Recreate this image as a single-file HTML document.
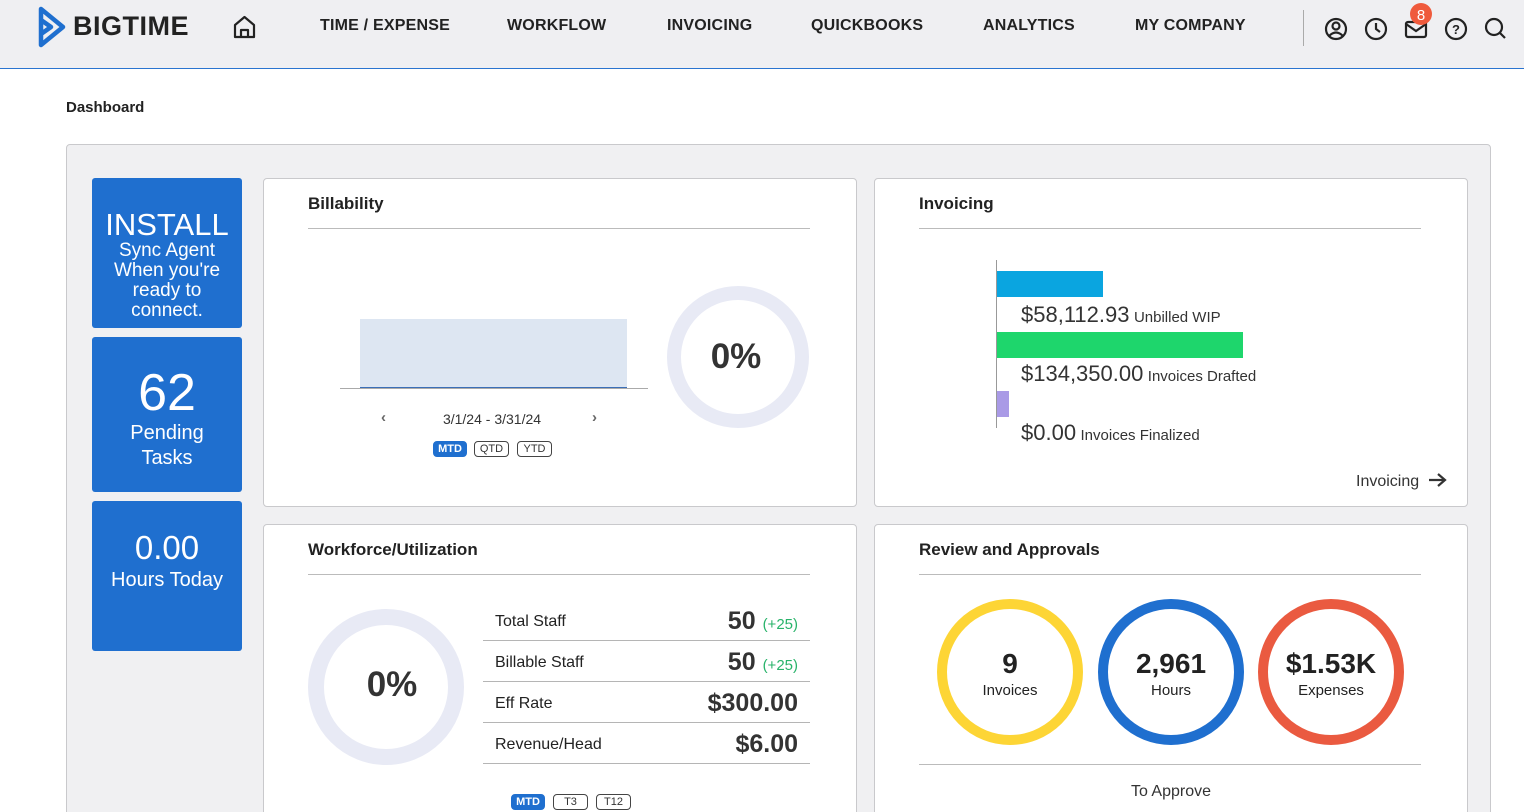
<!DOCTYPE html>
<html><head><meta charset="utf-8"><style>
*{margin:0;padding:0;box-sizing:border-box}
html,body{width:1524px;height:812px;overflow:hidden}
body{background:#fff;font-family:"Liberation Sans",Arial,sans-serif;color:#222;position:relative}
.a{position:absolute}
.hdr{left:0;top:0;width:1524px;height:68px;background:#efeff2}
.nav{top:17px;font-size:16px;font-weight:bold;color:#222;letter-spacing:.2px}
.tile{background:#1f6fcf;color:#fff;border-radius:3px;width:150px;text-align:center}
.card{background:#fff;border:1px solid #c9c9cc;border-radius:4px}
.title{font-size:17px;font-weight:bold;color:#222}
.hl{height:1px;background:#bbb}
.pill{height:16px;border:1px solid #444;border-radius:4px;font-size:11px;text-align:center;line-height:14px;color:#333}
.pill.on{background:#1f6fcf;border-color:#1f6fcf;color:#fff;font-weight:bold}
.row{left:483px;width:327px;height:41px;border-bottom:1px solid #b5b5b5}
.row .l{position:absolute;left:12px;top:13px;font-size:16px;color:#222}
.row .v{position:absolute;right:12px;top:7px;font-size:25px;font-weight:bold;color:#333}
.row .v small{font-size:15px;font-weight:normal;color:#28b36a}
.big{font-size:22px;color:#333}
.sm{font-size:15px;color:#333}
.rc{text-align:center;width:140px}
</style></head><body>
<div class="a hdr"></div>
<div class="a" style="left:0;top:68px;width:1524px;height:1px;background:#2a74d0"></div>
<svg class="a" style="left:38px;top:6px" width="28" height="42" viewBox="0 0 28 42"><path d="M3 3 L25 21 L3 39 Z M3 14 L13 21 L3 28" fill="none" stroke="#1f6fcf" stroke-width="4.5" stroke-linejoin="round"/></svg>
<div class="a" style="left:73px;top:11px;font-size:27px;font-weight:bold;color:#222;letter-spacing:.5px">BIGTIME</div>
<svg class="a" style="left:233px;top:15px" width="23" height="24" viewBox="0 0 23 24"><path d="M2 10 L11.5 2 L21 10 V22 H2 Z M8 22 V15 H15 V22" fill="none" stroke="#222" stroke-width="2.2" stroke-linejoin="round"/></svg>
<div class="a nav" style="left:320px">TIME / EXPENSE</div>
<div class="a nav" style="left:507px">WORKFLOW</div>
<div class="a nav" style="left:667px">INVOICING</div>
<div class="a nav" style="left:811px">QUICKBOOKS</div>
<div class="a nav" style="left:983px">ANALYTICS</div>
<div class="a nav" style="left:1135px">MY COMPANY</div>
<div class="a" style="left:1303px;top:10px;width:1px;height:36px;background:#aaa"></div>
<svg class="a" style="left:1320px;top:0px" width="200" height="48" viewBox="0 0 200 48">
<g fill="none" stroke="#222" stroke-width="2.2">
<circle cx="16" cy="29" r="10"/><circle cx="16" cy="26" r="3.5"/><path d="M9 36 Q16 29 23 36"/>
<circle cx="56" cy="29" r="10"/><path d="M56 23 V29 L60 32"/>
<rect x="86" y="22" width="20" height="15" rx="2"/><path d="M86 24 L96 31 L106 24"/>
<circle cx="136" cy="29" r="10"/>
<circle cx="174" cy="27" r="8"/><path d="M180 33 L185 38"/>
</g>
<text x="136" y="34" font-size="13" font-weight="bold" text-anchor="middle" fill="#222" font-family="Liberation Sans">?</text>
<circle cx="101" cy="14" r="11" fill="#ef5a3c"/>
<text x="101" y="20" font-size="15" text-anchor="middle" fill="#fff" font-family="Liberation Sans">8</text>
</svg>

<div class="a" style="left:66px;top:99px;font-size:15px;font-weight:bold">Dashboard</div>
<div class="a" style="left:66px;top:144px;width:1425px;height:700px;background:#f0f0f2;border:1px solid #c9c9cc;border-radius:4px"></div>

<div class="a tile" style="left:92px;top:178px;height:150px;padding-top:31px;line-height:20px;font-size:19px">
<div style="font-size:31px;line-height:32px">INSTALL</div>Sync Agent<br>When you're<br>ready to<br>connect.</div>
<div class="a tile" style="left:92px;top:337px;height:155px;padding-top:28px">
<div style="font-size:52px;line-height:56px">62</div><div style="font-size:20px;line-height:25px">Pending<br>Tasks</div></div>
<div class="a tile" style="left:92px;top:501px;height:150px;padding-top:28px">
<div style="font-size:33px;line-height:38px">0.00</div><div style="font-size:20px;line-height:26px">Hours Today</div></div>

<!-- Billability -->
<div class="a card" style="left:263px;top:178px;width:594px;height:329px"></div>
<div class="a title" style="left:308px;top:194px">Billability</div>
<div class="a hl" style="left:308px;top:228px;width:502px"></div>
<div class="a" style="left:360px;top:319px;width:267px;height:69px;background:#dde6f2;border-bottom:1px solid #3b6fb7"></div>
<div class="a" style="left:340px;top:388px;width:308px;height:1px;background:#aaa"></div>
<div class="a" style="left:381px;top:409px;font-size:15px;color:#666;font-weight:bold">‹</div>
<div class="a" style="left:592px;top:409px;font-size:15px;color:#666;font-weight:bold">›</div>
<div class="a" style="left:392px;top:411px;width:200px;text-align:center;font-size:14px;color:#333">3/1/24 - 3/31/24</div>
<div class="a pill on" style="left:433px;top:441px;width:34px">MTD</div>
<div class="a pill" style="left:474px;top:441px;width:35px">QTD</div>
<div class="a pill" style="left:517px;top:441px;width:35px">YTD</div>
<svg class="a" style="left:666px;top:286px" width="144" height="144"><circle cx="72" cy="71" r="64" fill="none" stroke="#e8eaf5" stroke-width="14"/></svg>
<div class="a" style="left:664px;top:337px;width:144px;text-align:center;font-size:35px;font-weight:bold;color:#333">0%</div>

<!-- Invoicing -->
<div class="a card" style="left:874px;top:178px;width:594px;height:329px"></div>
<div class="a title" style="left:919px;top:194px">Invoicing</div>
<div class="a hl" style="left:919px;top:228px;width:502px"></div>
<div class="a" style="left:996px;top:260px;width:1px;height:168px;background:#999"></div>
<div class="a" style="left:997px;top:271px;width:106px;height:26px;background:#0aa5e0"></div>
<div class="a" style="left:997px;top:332px;width:246px;height:26px;background:#1ed66c"></div>
<div class="a" style="left:997px;top:391px;width:12px;height:26px;background:#a99ae6"></div>
<div class="a" style="left:1021px;top:302px"><span class="big">$58,112.93</span> <span class="sm">Unbilled WIP</span></div>
<div class="a" style="left:1021px;top:361px"><span class="big">$134,350.00</span> <span class="sm">Invoices Drafted</span></div>
<div class="a" style="left:1021px;top:420px"><span class="big">$0.00</span> <span class="sm">Invoices Finalized</span></div>
<div class="a" style="left:1356px;top:473px;font-size:16px;color:#333">Invoicing</div>
<svg class="a" style="left:1427px;top:471px" width="22" height="18"><path d="M2 9 H18 M11 3 L18 9 L11 15" fill="none" stroke="#333" stroke-width="2.2"/></svg>

<!-- Workforce -->
<div class="a card" style="left:263px;top:524px;width:594px;height:300px"></div>
<div class="a title" style="left:308px;top:540px">Workforce/Utilization</div>
<div class="a hl" style="left:308px;top:574px;width:502px"></div>
<svg class="a" style="left:308px;top:609px" width="158" height="158"><circle cx="78" cy="78" r="70" fill="none" stroke="#e8eaf5" stroke-width="16"/></svg>
<div class="a" style="left:313px;top:665px;width:158px;text-align:center;font-size:35px;font-weight:bold;color:#333">0%</div>
<div class="a row" style="top:600px"><span class="l">Total Staff</span><span class="v">50 <small>(+25)</small></span></div>
<div class="a row" style="top:641px"><span class="l">Billable Staff</span><span class="v">50 <small>(+25)</small></span></div>
<div class="a row" style="top:682px"><span class="l">Eff Rate</span><span class="v">$300.00</span></div>
<div class="a row" style="top:723px"><span class="l">Revenue/Head</span><span class="v">$6.00</span></div>
<div class="a pill on" style="left:511px;top:794px;width:34px">MTD</div>
<div class="a pill" style="left:553px;top:794px;width:35px">T3</div>
<div class="a pill" style="left:596px;top:794px;width:35px">T12</div>

<!-- Review -->
<div class="a card" style="left:874px;top:524px;width:594px;height:300px"></div>
<div class="a title" style="left:919px;top:540px">Review and Approvals</div>
<div class="a hl" style="left:919px;top:574px;width:502px"></div>
<svg class="a" style="left:930px;top:592px" width="490" height="160">
<circle cx="80" cy="80" r="68" fill="none" stroke="#fdd535" stroke-width="10"/>
<circle cx="241" cy="80" r="68" fill="none" stroke="#1f6fcf" stroke-width="10"/>
<circle cx="401" cy="80" r="68" fill="none" stroke="#ea5a40" stroke-width="10"/>
</svg>
<div class="a rc" style="left:940px;top:648px"><div style="font-size:28px;font-weight:bold;color:#222">9</div><div style="font-size:15px;margin-top:2px">Invoices</div></div>
<div class="a rc" style="left:1101px;top:648px"><div style="font-size:28px;font-weight:bold;color:#222">2,961</div><div style="font-size:15px;margin-top:2px">Hours</div></div>
<div class="a rc" style="left:1261px;top:648px"><div style="font-size:28px;font-weight:bold;color:#222">$1.53K</div><div style="font-size:15px;margin-top:2px">Expenses</div></div>
<div class="a hl" style="left:919px;top:764px;width:502px"></div>
<div class="a" style="left:1071px;top:783px;width:200px;text-align:center;font-size:16px;color:#333">To Approve</div>
</body></html>
